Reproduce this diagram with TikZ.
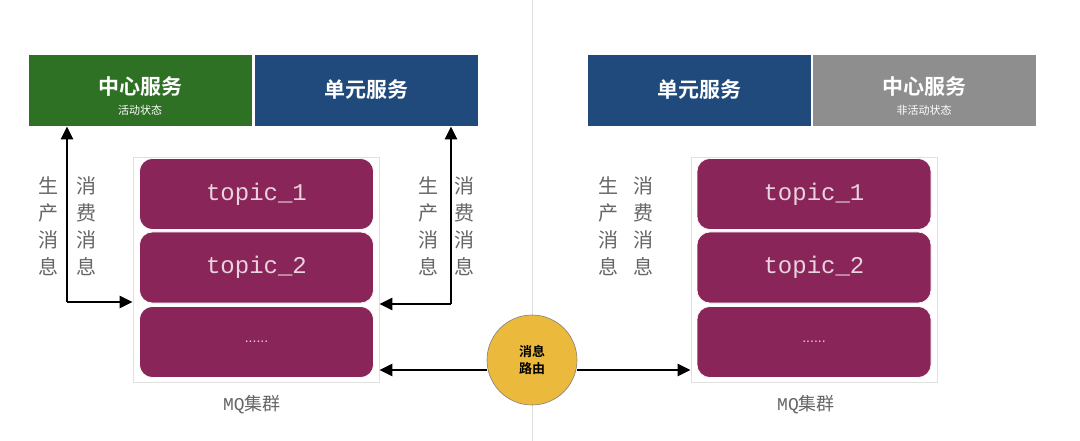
\documentclass[tikz,border=0pt]{standalone}
\usepackage{fontspec}
\setmainfont{Liberation Sans}
\newfontfamily\cjk{Noto Sans CJK SC}
\newfontfamily\cjkb{Noto Sans CJK SC Bold}
\setmonofont{Liberation Mono}
\usetikzlibrary{arrows.meta}
\definecolor{cgreen}{HTML}{2E7024}
\definecolor{cblue}{HTML}{1F4A7B}
\definecolor{cgray}{HTML}{8E8E8E}
\definecolor{cpurp}{HTML}{8A2559}
\definecolor{cgold}{HTML}{EBBA3C}
\begin{document}
\begin{tikzpicture}[x=1pt,y=-1pt,
 svc/.style={draw=white,line width=0.8pt,minimum width=224pt,minimum height=72pt,inner sep=0pt},
 big/.style={text=white,font=\cjkb\fontsize{21}{22}\selectfont,inner sep=0pt},
 small/.style={text=white,font=\cjk\fontsize{11}{12}\selectfont,inner sep=0pt},
 topic/.style={fill=cpurp,draw=white,line width=0.6pt,rounded corners=13pt,minimum width=234pt,minimum height=71pt,text=white!80!cpurp,font=\ttfamily\fontsize{24}{26}\selectfont},
 dots/.style={topic,font=\rmfamily\fontsize{14}{16}\selectfont},
 mq/.style={draw=black!12,line width=0.8pt,minimum width=246pt,minimum height=225pt,inner sep=0pt},
 lbl/.style={font=\cjk\fontsize{20}{27}\selectfont,text=black!60,align=center,inner sep=0pt},
 arr/.style={-{Triangle[length=13pt,width=12pt]},line width=2.8pt}]
\useasboundingbox (0,0) rectangle (1080,441);
\fill[white] (0,0) rectangle (1080,441);
\coordinate (st) at (532,0); \coordinate (sb) at (532,441);
\draw[black!12,line width=1pt] (st) -- (sb);
% left
\node[svc,fill=cgreen] (c1) at (140,90) {};
\node[big] (c1a) at (140,87) {中心服务};
\node[small] (c1b) at (140,110) {活动状态};
\node[svc,fill=cblue] (u1) at (366,90) {};
\node[big] (u1a) at (366,90) {单元服务};
\node[mq] (m1) at (256,269.5) {};
\node[topic] (t11) at (256.5,194) {topic\_1};
\node[topic] (t12) at (256.5,267.5) {topic\_2};
\node[dots] (t13) at (256.5,342) {......};
\node[font=\ttfamily\fontsize{18}{20}\selectfont,text=black!60] (l1) at (252,405) {MQ{\cjk 集群}};
\node[lbl] (p1) at (48,226) {生\\产\\消\\息};
\node[lbl] (q1) at (86,226) {消\\费\\消\\息};
\node[lbl] (p2) at (428,226) {生\\产\\消\\息};
\node[lbl] (q2) at (464,226) {消\\费\\消\\息};
\coordinate (k1) at (67,302);
\coordinate (k2) at (451,304);
\draw[arr] (k1) -- (k1 |- c1.south);
\draw[arr] (k1) -- (m1.west |- k1);
\draw[arr] (k2) -- (k2 |- u1.south);
\draw[arr] (k2) -- (m1.east |- k2);
% right
\node[svc,fill=cblue] (u2) at (699,90) {};
\node[big] (u2a) at (699,90) {单元服务};
\node[svc,fill=cgray] (c2) at (924,90) {};
\node[big] (c2a) at (924,87) {中心服务};
\node[small] (c2b) at (924,110) {非活动状态};
\node[mq] (m2) at (814,269.5) {};
\node[topic] (t21) at (814,194) {topic\_1};
\node[topic] (t22) at (814,267.5) {topic\_2};
\node[dots] (t23) at (814,342) {......};
\node[font=\ttfamily\fontsize{18}{20}\selectfont,text=black!60] (l2) at (806,405) {MQ{\cjk 集群}};
\node[lbl] (p3) at (608,226) {生\\产\\消\\息};
\node[lbl] (q3) at (643,226) {消\\费\\消\\息};
% router
\node[circle,fill=cgold,draw=black!50,line width=0.6pt,minimum size=90pt,inner sep=0pt,align=center,font=\cjkb\fontsize{13}{17}\selectfont] (r) at (532,360) {消息\\路由};
\draw[arr] (r.west |- 0,370) -- (m1.east |- 0,370);
\draw[arr] (r.east |- 0,370) -- (m2.west |- 0,370);
\end{tikzpicture}
\end{document}
